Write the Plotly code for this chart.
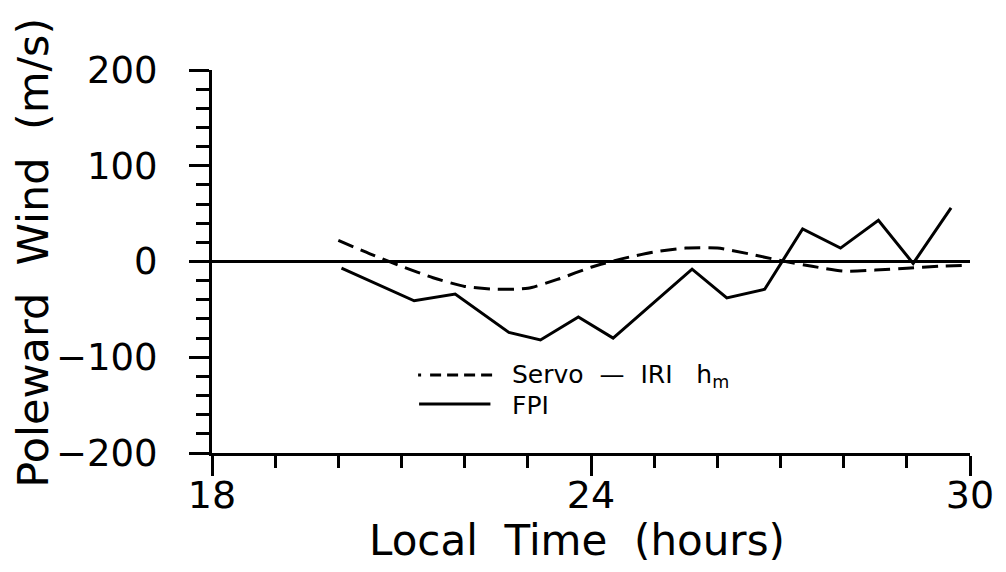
import plotly.graph_objects as go

# ---- data ----
fpi_time = [20.05, 21.2, 21.85, 22.7, 23.2, 23.8, 24.35, 25.6, 26.15, 26.75, 27.35, 27.95, 28.55, 29.1, 29.7]
fpi_wind = [-7, -41, -34, -74, -82, -58, -80, -8, -38, -29, 34, 14, 43, -2, 56]

servo_time = [20.0, 20.5, 21.0, 21.5, 22.0, 22.5, 23.0, 23.5, 24.0, 24.5, 25.0,
              25.5, 26.0, 26.5, 27.0, 27.5, 28.0, 28.5, 29.0, 29.5, 30.0]
servo_wind = [22, 8, -5, -17, -26, -29, -28, -18, -6, 3, 10,
              14, 14, 8, 1, -5, -10, -9, -7, -5, -4]

x_tickvals = [18, 24, 30]
y_tickvals = [-200, -100, 0, 100, 200]

FONT = "DejaVu Sans"
NB = "\u00a0"

fig = go.Figure()
fig.add_trace(go.Scatter(x=servo_time, y=servo_wind, mode="lines",
                         line=dict(color="black", width=3, dash="16px,8px", shape="spline", smoothing=0.6),
                         showlegend=False, hoverinfo="skip"))
fig.add_trace(go.Scatter(x=fpi_time, y=fpi_wind, mode="lines",
                         line=dict(color="black", width=3),
                         showlegend=False, hoverinfo="skip"))

fig.update_layout(
    width=1006, height=572,
    margin=dict(l=212, r=29, t=70, b=119),
    paper_bgcolor="white", plot_bgcolor="white",
    font=dict(family=FONT, color="black"),
    showlegend=False,
    xaxis=dict(range=[18, 30], tickvals=x_tickvals, ticktext=[str(v) for v in x_tickvals],
               showline=True, linewidth=3, linecolor="black", mirror=False,
               ticks="outside", ticklen=20, tickwidth=3, tickcolor="black",
               minor=dict(dtick=1, tick0=18, ticks="outside", ticklen=12, tickwidth=3, tickcolor="black", showgrid=False),
               showgrid=False, zeroline=False,
               ticklabelstandoff=-14,
               tickfont=dict(family=FONT, size=38, color="black")),
    yaxis=dict(range=[-200, 200], tickvals=y_tickvals,
               showline=True, linewidth=3, linecolor="black",
               ticks="outside", ticklen=20, tickwidth=3, tickcolor="black",
               minor=dict(dtick=20, tick0=0, ticks="outside", ticklen=13, tickwidth=3, tickcolor="black", showgrid=False),
               showgrid=False, zeroline=True, zerolinewidth=3, zerolinecolor="black",
               ticklabelstandoff=24,
               tickfont=dict(family=FONT, size=37, color="black")),
)

def px_x(p):
    return (p - 212) / (977 - 212)

def px_y(p):
    return (453 - p) / (453 - 70)

# axis titles
fig.add_annotation(text=f"Local{NB} Time{NB} (hours)", xref="paper", yref="paper",
                   x=px_x(580), y=px_y(540),
                   xanchor="center", yanchor="middle", showarrow=False,
                   font=dict(family=FONT, size=42, color="black"))
fig.add_annotation(text=f"Poleward{NB} Wind{NB} (m/s)", xref="paper", yref="paper",
                   x=px_x(31), y=px_y(253),
                   xanchor="center", yanchor="middle", textangle=-90, showarrow=False,
                   font=dict(family=FONT, size=43, color="black"))

# legend (manual)
fig.add_shape(type="line", xref="paper", yref="paper",
              x0=px_x(420), x1=px_x(498), y0=px_y(375), y1=px_y(375),
              line=dict(color="black", width=3,
                        dash="3px,9px,11px,6px,11px,6px,11px,6px,11px,6px"))
fig.add_shape(type="line", xref="paper", yref="paper",
              x0=px_x(421), x1=px_x(493), y0=px_y(404), y1=px_y(404),
              line=dict(color="black", width=3))
fig.add_annotation(text=f"Servo {NB}—{NB} IRI{NB}  h<sub>m</sub>", xref="paper", yref="paper",
                   x=px_x(513), y=px_y(376), xanchor="left", yanchor="middle", showarrow=False,
                   font=dict(family=FONT, size=25, color="black"))
fig.add_annotation(text="FPI", xref="paper", yref="paper",
                   x=px_x(513), y=px_y(405), xanchor="left", yanchor="middle", showarrow=False,
                   font=dict(family=FONT, size=25, color="black"))

fig.write_html("out.html")
